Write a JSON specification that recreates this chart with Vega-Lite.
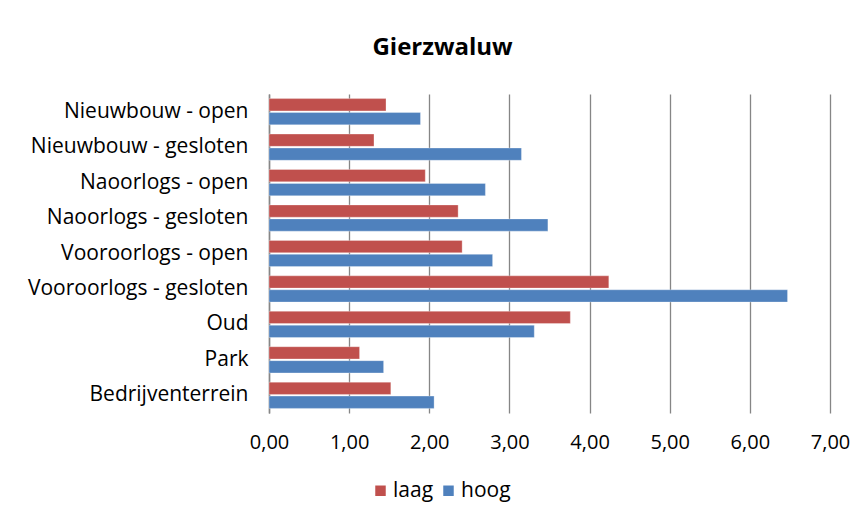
{
  "$schema": "https://vega.github.io/schema/vega-lite/v6.json",
  "width": 561,
  "height": 319,
  "autosize": {"type": "none"},
  "padding": {"left": 269, "top": 94, "right": 35, "bottom": 113},
  "background": "white",
  "title": {
    "text": "Gierzwaluw",
    "anchor": "middle",
    "frame": "group",
    "dx": -107,
    "offset": 34,
    "font": "Open Sans",
    "fontSize": 24,
    "fontWeight": "bold",
    "color": "#000000"
  },
  "data": {
    "values": [
      {"cat": "Nieuwbouw - open", "serie": "laag", "value": 1.46},
      {"cat": "Nieuwbouw - open", "serie": "hoog", "value": 1.89},
      {"cat": "Nieuwbouw - gesloten", "serie": "laag", "value": 1.31},
      {"cat": "Nieuwbouw - gesloten", "serie": "hoog", "value": 3.15},
      {"cat": "Naoorlogs - open", "serie": "laag", "value": 1.95},
      {"cat": "Naoorlogs - open", "serie": "hoog", "value": 2.70},
      {"cat": "Naoorlogs - gesloten", "serie": "laag", "value": 2.36},
      {"cat": "Naoorlogs - gesloten", "serie": "hoog", "value": 3.48},
      {"cat": "Vooroorlogs - open", "serie": "laag", "value": 2.41},
      {"cat": "Vooroorlogs - open", "serie": "hoog", "value": 2.79},
      {"cat": "Vooroorlogs - gesloten", "serie": "laag", "value": 4.24},
      {"cat": "Vooroorlogs - gesloten", "serie": "hoog", "value": 6.47},
      {"cat": "Oud", "serie": "laag", "value": 3.76},
      {"cat": "Oud", "serie": "hoog", "value": 3.31},
      {"cat": "Park", "serie": "laag", "value": 1.13},
      {"cat": "Park", "serie": "hoog", "value": 1.43},
      {"cat": "Bedrijventerrein", "serie": "laag", "value": 1.52},
      {"cat": "Bedrijventerrein", "serie": "hoog", "value": 2.06}
    ]
  },
  "mark": {"type": "bar", "stroke": "#ffffff", "strokeOpacity": 0.5, "strokeWidth": 0.6},
  "encoding": {
    "y": {
      "field": "cat",
      "type": "nominal",
      "sort": null,
      "scale": {"paddingInner": 0.26, "paddingOuter": 0.13},
      "axis": {
        "title": null,
        "ticks": false,
        "domain": true,
        "domainColor": "#868686",
        "domainWidth": 1.5,
        "labelFont": "Open Sans",
        "labelFontSize": 21,
        "labelColor": "#000000",
        "labelPadding": 21,
        "labelLimit": 400,
        "grid": false
      }
    },
    "yOffset": {
      "field": "serie",
      "type": "nominal",
      "sort": ["laag", "hoog"],
      "scale": {"paddingInner": 0.12}
    },
    "x": {
      "field": "value",
      "type": "quantitative",
      "scale": {"domain": [0, 7], "nice": false},
      "axis": {
        "title": null,
        "values": [0, 1, 2, 3, 4, 5, 6, 7],
        "labelExpr": "replace(format(datum.value, '.2f'), '.', ',')",
        "domain": false,
        "ticks": false,
        "grid": true,
        "gridColor": "#868686",
        "gridWidth": 1.3,
        "labelFont": "Open Sans",
        "labelFontSize": 20,
        "labelColor": "#000000",
        "labelPadding": 19,
        "labelFlush": false
      }
    },
    "color": {
      "field": "serie",
      "type": "nominal",
      "scale": {"domain": ["laag", "hoog"], "range": ["#C0504D", "#4F81BD"]},
      "legend": {
        "title": null,
        "orient": "none",
        "direction": "horizontal",
        "legendX": 101,
        "legendY": 386,
        "symbolType": "square",
        "symbolSize": 110,
        "symbolStrokeWidth": 0,
        "labelFont": "Open Sans",
        "labelFontSize": 21,
        "labelColor": "#000000",
        "labelOffset": 2,
        "columnPadding": 4
      }
    }
  },
  "config": {"view": {"stroke": null}}
}
